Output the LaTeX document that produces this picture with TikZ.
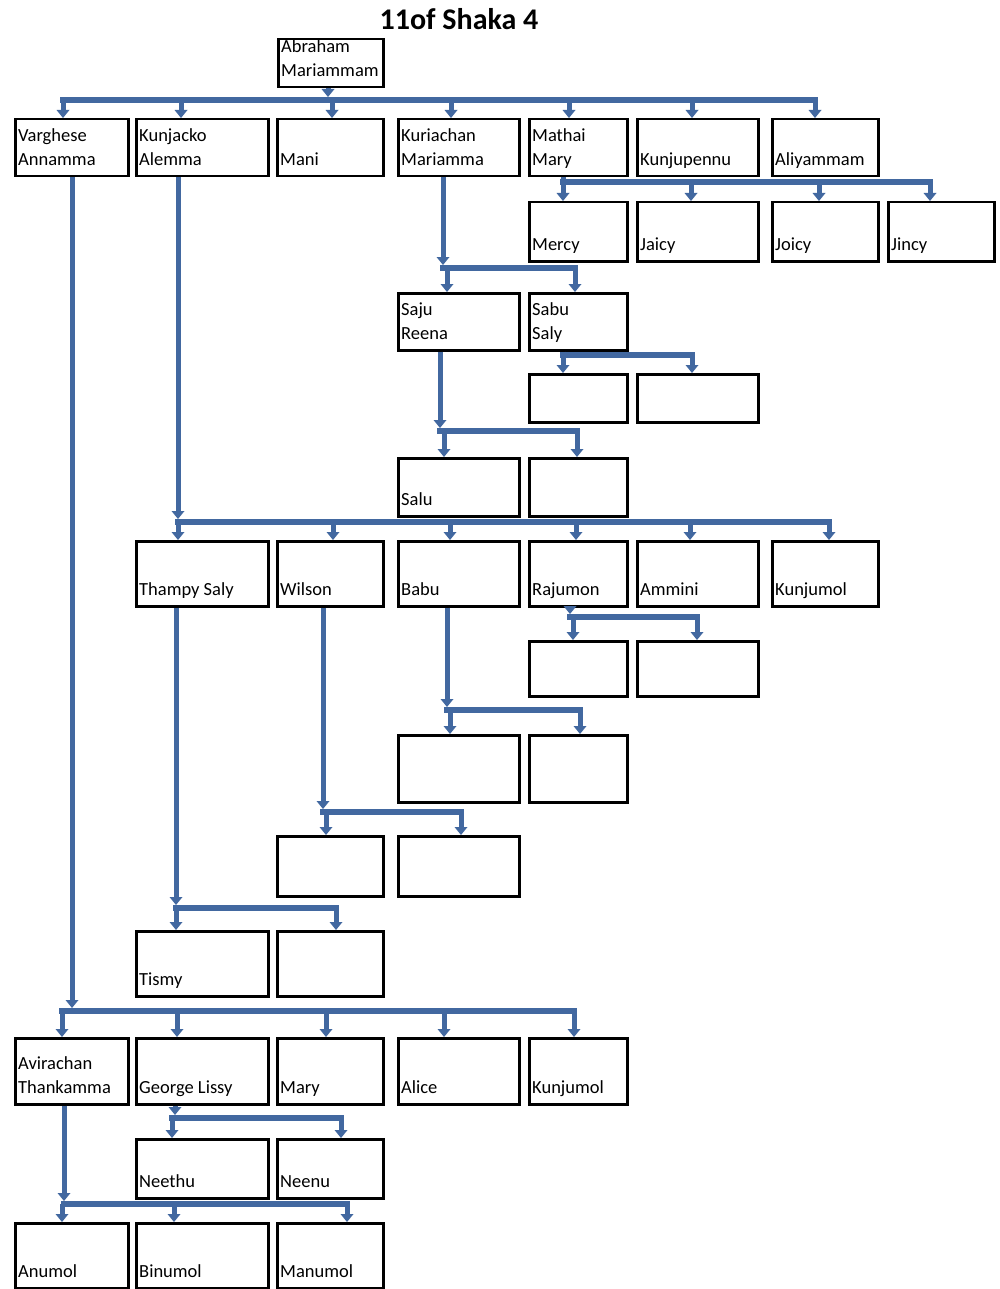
\documentclass[tikz,border=0pt]{standalone}
\usepackage{fontspec}
\setmainfont{Carlito}
\usetikzlibrary{arrows.meta}
\definecolor{treeblue}{RGB}{66,104,160}

\begin{document}
\begin{tikzpicture}[x=1pt, y=-1pt,
  person/.style 2 args={draw, line width=2.5pt, anchor=north west, inner sep=0pt,
    minimum width=#1pt, minimum height=#2pt},
  nm/.style={anchor=south west, inner sep=0pt, text depth=4pt, align=left,
    xshift=4pt, yshift=7.5pt, font=\fontsize{18.5}{24}\selectfont},
  bar/.style={draw=treeblue, line width=6pt, line cap=rect},
  stem/.style={draw=treeblue, line width=5pt, -{Triangle[width=13pt,length=8pt,line width=0pt]}},
  plainstem/.style={draw=treeblue, line width=5pt}]
  \useasboundingbox (0,0) rectangle (1000,1289);

  \node[font=\bfseries\fontsize{30}{32}\selectfont] (title) at (459,19) {11of Shaka 4};

  % first generation
  \node[person={105}{48}, label={[nm]south west:Abraham\\Mariammam}] (abraham) at (277,38) {};

  % Abraham's children
  \node[person={113}{57}, label={[nm]south west:Varghese\\Annamma}] (varghese) at (14,118) {};
  \node[person={132}{57}, label={[nm]south west:Kunjacko\\Alemma}] (kunjacko) at (135,118) {};
  \node[person={106}{57}, label={[nm]south west:Mani}] (mani) at (276,118) {};
  \node[person={121}{57}, label={[nm]south west:Kuriachan\\Mariamma}] (kuriachan) at (397,118) {};
  \node[person={98}{57}, label={[nm]south west:Mathai\\Mary}] (mathai) at (528,118) {};
  \node[person={121}{57}, label={[nm]south west:Kunjupennu}] (kunjupennu) at (636,118) {};
  \node[person={106}{57}, label={[nm]south west:Aliyammam}] (aliyammam) at (771,118) {};

  % Mathai's children
  \node[person={98}{59}, label={[nm]south west:Mercy}] (mercy) at (528,201) {};
  \node[person={121}{59}, label={[nm]south west:Jaicy}] (jaicy) at (636,201) {};
  \node[person={106}{59}, label={[nm]south west:Joicy}] (joicy) at (771,201) {};
  \node[person={106}{59}, label={[nm]south west:Jincy}] (jincy) at (887,201) {};

  % Kuriachan's line
  \node[person={121}{57}, label={[nm]south west:Saju\\Reena}] (saju) at (397,292) {};
  \node[person={98}{57}, label={[nm]south west:Sabu\\Saly}] (sabu) at (528,292) {};
  \node[person={98}{48}] (sabuA) at (528,373) {};
  \node[person={121}{48}] (sabuB) at (636,373) {};
  \node[person={121}{58}, label={[nm]south west:Salu}] (salu) at (397,457) {};
  \node[person={98}{58}] (sajuB) at (528,457) {};

  % Kunjacko's line
  \node[person={132}{65}, label={[nm]south west:Thampy Saly}] (thampy) at (135,540) {};
  \node[person={106}{65}, label={[nm]south west:Wilson}] (wilson) at (276,540) {};
  \node[person={121}{65}, label={[nm]south west:Babu}] (babu) at (397,540) {};
  \node[person={98}{65}, label={[nm]south west:Rajumon}] (rajumon) at (528,540) {};
  \node[person={121}{65}, label={[nm]south west:Ammini}] (ammini) at (636,540) {};
  \node[person={106}{65}, label={[nm]south west:Kunjumol}] (kunjumol) at (771,540) {};
  \node[person={98}{55}] (rajA) at (528,640) {};
  \node[person={121}{55}] (rajB) at (636,640) {};
  \node[person={121}{67}] (babuA) at (397,734) {};
  \node[person={98}{67}] (babuB) at (528,734) {};
  \node[person={106}{60}] (wilA) at (276,835) {};
  \node[person={121}{60}] (wilB) at (397,835) {};
  \node[person={132}{65}, label={[nm]south west:Tismy}] (tismy) at (135,930) {};
  \node[person={106}{65}] (thampyB) at (276,930) {};

  % Varghese's line
  \node[person={113}{66}, label={[nm]south west:Avirachan\\Thankamma}] (avirachan) at (14,1037) {};
  \node[person={132}{66}, label={[nm]south west:George Lissy}] (george) at (135,1037) {};
  \node[person={106}{66}, label={[nm]south west:Mary}] (mary) at (276,1037) {};
  \node[person={121}{66}, label={[nm]south west:Alice}] (alice) at (397,1037) {};
  \node[person={98}{66}, label={[nm]south west:Kunjumol}] (kunjumolB) at (528,1037) {};
  \node[person={132}{59}, label={[nm]south west:Neethu}] (neethu) at (135,1138) {};
  \node[person={106}{59}, label={[nm]south west:Neenu}] (neenu) at (276,1138) {};
  \node[person={113}{65}, label={[nm]south west:Anumol}] (anumol) at (14,1222) {};
  \node[person={132}{65}, label={[nm]south west:Binumol}] (binumol) at (135,1222) {};
  \node[person={106}{65}, label={[nm]south west:Manumol}] (manumol) at (276,1222) {};

  % connectors
  \coordinate (abrBar) at (63,100);
  \draw[stem, shorten >=3pt] (328,0 |- abraham.south) -- (328,0 |- abrBar);
  \foreach \x/\kid in {63/varghese,181/kunjacko,332/mani,451/kuriachan,569/mathai,692/kunjupennu,815/aliyammam}
    \draw[stem] (\x,0 |- abrBar) -- (\x,0 |- \kid.north);
  \draw[bar] (abrBar) -- (815,0 |- abrBar);

  \coordinate (matBar) at (563,182);
  \draw[plainstem] (563,0 |- mathai.south) -- (matBar);
  \foreach \x/\kid in {563/mercy,691/jaicy,819/joicy,930/jincy}
    \draw[stem] (\x,0 |- matBar) -- (\x,0 |- \kid.north);
  \draw[bar] (matBar) -- (930,0 |- matBar);

  \coordinate (kurBar) at (443,268);
  \draw[stem, shorten >=3pt] (443,0 |- kuriachan.south) -- (kurBar);
  \foreach \x/\kid in {447/saju,575/sabu}
    \draw[stem] (\x,0 |- kurBar) -- (\x,0 |- \kid.north);
  \draw[bar] (kurBar) -- (575,0 |- kurBar);

  \coordinate (sabBar) at (563,355);
  \draw[plainstem] (563,0 |- sabu.south) -- (sabBar);
  \foreach \x/\kid in {563/sabuA,692/sabuB}
    \draw[stem] (\x,0 |- sabBar) -- (\x,0 |- \kid.north);
  \draw[bar] (sabBar) -- (692,0 |- sabBar);

  \coordinate (sajBar) at (440,431);
  \draw[stem, shorten >=3pt] (440,0 |- saju.south) -- (sajBar);
  \foreach \x/\kid in {444/salu,577/sajuB}
    \draw[stem] (\x,0 |- sajBar) -- (\x,0 |- \kid.north);
  \draw[bar] (sajBar) -- (577,0 |- sajBar);

  \coordinate (kjBar) at (178,522);
  \draw[stem, shorten >=3pt] (178,0 |- kunjacko.south) -- (kjBar);
  \foreach \x/\kid in {178/thampy,333/wilson,450/babu,576/rajumon,690/ammini,829/kunjumol}
    \draw[stem] (\x,0 |- kjBar) -- (\x,0 |- \kid.north);
  \draw[bar] (kjBar) -- (829,0 |- kjBar);

  \coordinate (rajBar) at (570,617);
  \draw[stem, shorten >=3pt] (570,0 |- rajumon.south) -- (rajBar);
  \foreach \x/\kid in {573/rajA,697/rajB}
    \draw[stem] (\x,0 |- rajBar) -- (\x,0 |- \kid.north);
  \draw[bar] (rajBar) -- (697,0 |- rajBar);

  \coordinate (babBar) at (447,710);
  \draw[stem, shorten >=3pt] (447,0 |- babu.south) -- (babBar);
  \foreach \x/\kid in {450/babuA,580/babuB}
    \draw[stem] (\x,0 |- babBar) -- (\x,0 |- \kid.north);
  \draw[bar] (babBar) -- (580,0 |- babBar);

  \coordinate (wilBar) at (323,812);
  \draw[stem, shorten >=3pt] (323,0 |- wilson.south) -- (wilBar);
  \foreach \x/\kid in {326/wilA,461/wilB}
    \draw[stem] (\x,0 |- wilBar) -- (\x,0 |- \kid.north);
  \draw[bar] (wilBar) -- (461,0 |- wilBar);

  \coordinate (thaBar) at (176,908);
  \draw[stem, shorten >=3pt] (176,0 |- thampy.south) -- (thaBar);
  \foreach \x/\kid in {176/tismy,336/thampyB}
    \draw[stem] (\x,0 |- thaBar) -- (\x,0 |- \kid.north);
  \draw[bar] (thaBar) -- (336,0 |- thaBar);

  \coordinate (varBar) at (62,1011);
  \draw[stem, shorten >=3pt] (72,0 |- varghese.south) -- (72,0 |- varBar);
  \foreach \x/\kid in {62/avirachan,177/george,326/mary,444/alice,574/kunjumolB}
    \draw[stem] (\x,0 |- varBar) -- (\x,0 |- \kid.north);
  \draw[bar] (varBar) -- (574,0 |- varBar);

  \coordinate (geoBar) at (172,1118);
  \draw[stem, shorten >=3pt] (175,0 |- george.south) -- (175,0 |- geoBar);
  \foreach \x/\kid in {172/neethu,341/neenu}
    \draw[stem] (\x,0 |- geoBar) -- (\x,0 |- \kid.north);
  \draw[bar] (geoBar) -- (341,0 |- geoBar);

  \coordinate (aviBar) at (64,1204);
  \draw[stem, shorten >=3pt] (64,0 |- avirachan.south) -- (aviBar);
  \foreach \x/\kid in {62/anumol,174/binumol,347/manumol}
    \draw[stem] (\x,0 |- aviBar) -- (\x,0 |- \kid.north);
  \draw[bar] (aviBar) -- (347,0 |- aviBar);
\end{tikzpicture}
\end{document}
